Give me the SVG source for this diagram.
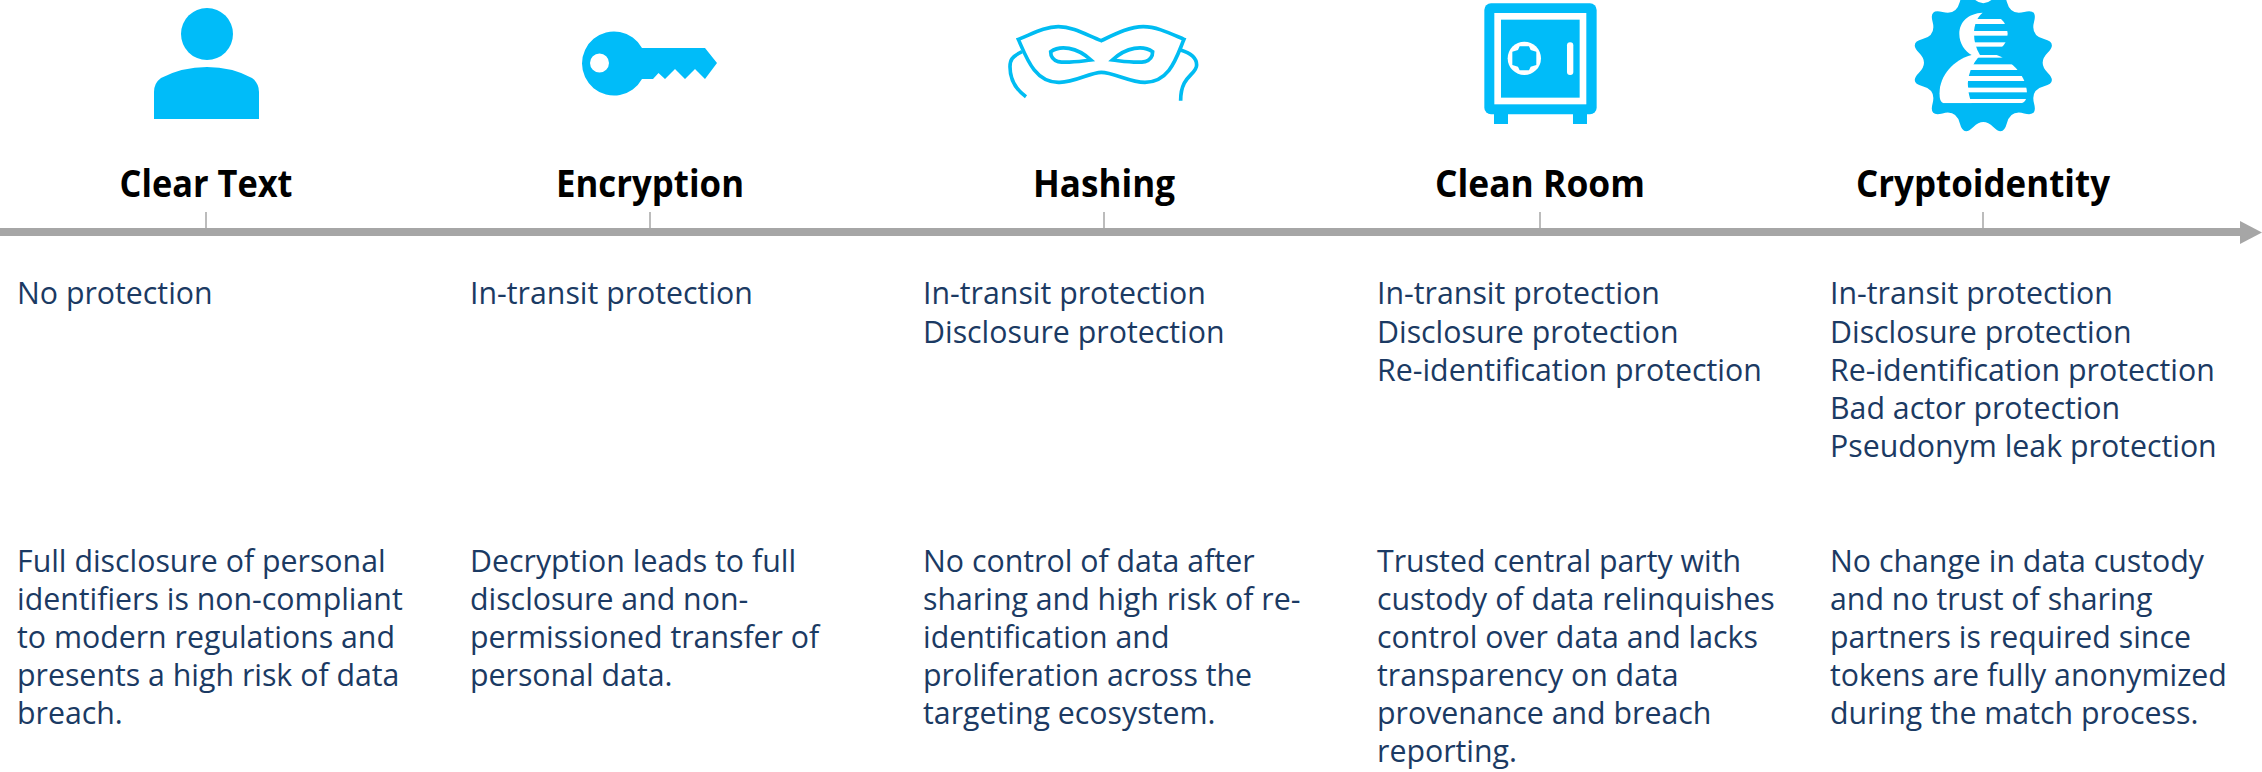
<svg xmlns="http://www.w3.org/2000/svg" width="2262" height="772" viewBox="0 0 2262 772">
<style>
text{font-family:"Open Sans","Noto Sans","Liberation Sans",sans-serif}
.t{font-size:37px;font-weight:700;fill:#000;text-anchor:middle}
.b{font-size:30.300px;fill:#1b3a63}
.i{fill:#00bcf9}
.w{fill:#fff}
.s{fill:none;stroke:#00bcf2;stroke-width:11;stroke-linejoin:miter}
.tick{stroke:#a6a6a6;stroke-width:1.5}
</style>
<defs>
<clipPath id="head"><ellipse cx="250" cy="101" rx="73" ry="64"/></clipPath>
<clipPath id="torso"><path d="M130 310Q118 305 118 280C120 225 160 180 215 165H290C340 185 380 230 381 280Q381 305 365 310Z"/></clipPath>
</defs>
<rect width="2262" height="772" fill="#fff"/>
<g id="connectors">
<rect x="0" y="228" width="2242" height="8" fill="#a6a6a6"/>
<polygon points="2240,221 2262,232.500 2240,244" fill="#a6a6a6"/>
<line class="tick" x1="206" y1="212" x2="206" y2="228"/>
<line class="tick" x1="650" y1="212" x2="650" y2="228"/>
<line class="tick" x1="1104" y1="212" x2="1104" y2="228"/>
<line class="tick" x1="1540" y1="212" x2="1540" y2="228"/>
<line class="tick" x1="1983" y1="212" x2="1983" y2="228"/>
</g>
<g id="clear-text">
<circle class="i" cx="207" cy="34" r="26"/>
<path class="i" d="M154 119V92Q154 83 161 78Q182 67 207 67Q232 67 252 78Q259 83 259 92V119Z"/>
<text class="t" x="206" y="197" textLength="173" lengthAdjust="spacingAndGlyphs">Clear Text</text>
<text class="b" x="17" y="303.500">No protection</text>
<text class="b"><tspan x="17" y="572">Full disclosure of personal</tspan><tspan x="17" y="610">identifiers is non-compliant</tspan><tspan x="17" y="648">to modern regulations and</tspan><tspan x="17" y="686">presents a high risk of data</tspan><tspan x="17" y="724">breach.</tspan></text>
</g>
<g id="encryption">
<path class="i" fill-rule="evenodd" d="M642 48H705L717 63L705 79L695 69L685 79L675 69L665 79L658.500 73L653 79H642A32 32 0 1 1 642 48ZM609 63A9.500 9.500 0 1 0 590 63A9.500 9.500 0 1 0 609 63Z"/>
<text class="t" x="650" y="197" textLength="188" lengthAdjust="spacingAndGlyphs">Encryption</text>
<text class="b" x="470" y="303.500">In-transit protection</text>
<text class="b"><tspan x="470" y="572">Decryption leads to full</tspan><tspan x="470" y="610">disclosure and non-</tspan><tspan x="470" y="648">permissioned transfer of</tspan><tspan x="470" y="686">personal data.</tspan></text>
</g>
<g id="hashing">
<g transform="translate(960 0) scale(.3333)">
<path class="s" d="M175 118C220 100 255 80 295 80C340 80 380 105 424 122C470 100 510 80 550 80C590 80 630 100 672 118C650 170 630 247 555 247C510 247 460 217 424 217C390 217 340 250 295 247C225 247 200 175 175 118Z"/>
<path class="s" d="M272 155C300 135 350 140 393 180C350 185 320 190 295 185C280 180 272 170 272 155Z"/>
<path class="s" d="M578 155C550 135 500 140 457 180C500 185 530 190 555 185C570 180 578 170 578 155Z"/>
<path class="s" d="M186 155C155 170 150 180 150 200C150 240 170 270 198 290"/>
<path class="s" d="M662 150C695 160 710 175 710 195C710 225 662 225 662 302"/>
</g>
<text class="t" x="1104" y="197" textLength="142" lengthAdjust="spacingAndGlyphs">Hashing</text>
<text class="b"><tspan x="923" y="303.500">In-transit protection</tspan><tspan x="923" y="342.500">Disclosure protection</tspan></text>
<text class="b"><tspan x="923" y="572">No control of data after</tspan><tspan x="923" y="610">sharing and high risk of re-</tspan><tspan x="923" y="648">identification and</tspan><tspan x="923" y="686">proliferation across the</tspan><tspan x="923" y="724">targeting ecosystem.</tspan></text>
</g>
<g id="clean-room">
<g transform="translate(1440 0) scale(.3333)">
<rect class="i" x="133" y="10" width="337" height="333" rx="20"/>
<rect class="i" x="162" y="340" width="42" height="32"/>
<rect class="i" x="399" y="340" width="42" height="32"/>
<rect x="173" y="49" width="256" height="254" fill="none" stroke="#fff" stroke-width="20"/>
<circle class="w" cx="253" cy="175" r="50"/>
<path class="i" d="M239 139H267L272 150L289 155V195L272 200L267 211H239L234 200L217 195V155L234 150Z"/>
<rect class="w" x="381" y="127" width="19" height="98" rx="9"/>
</g>
<text class="t" x="1540" y="197" textLength="210" lengthAdjust="spacingAndGlyphs">Clean Room</text>
<text class="b"><tspan x="1377" y="303.500">In-transit protection</tspan><tspan x="1377" y="342.500">Disclosure protection</tspan><tspan x="1377" y="380.500">Re-identification protection</tspan></text>
<text class="b"><tspan x="1377" y="572">Trusted central party with</tspan><tspan x="1377" y="610">custody of data relinquishes</tspan><tspan x="1377" y="648">control over data and lacks</tspan><tspan x="1377" y="686">transparency on data</tspan><tspan x="1377" y="724">provenance and breach</tspan><tspan x="1377" y="762">reporting.</tspan></text>
</g>
<g id="cryptoidentity">
<g transform="translate(1900 0) scale(.3333)">
<path fill="#00b9f5" d="M279.900 -5.050Q309.800 -35.100 320.650 5.850T372.400 35.750T402.250 65.600T432.150 117.350T443.050 158.100T443.050 217.900T432.150 258.650T402.250 310.400T372.400 340.250T320.650 370.150T279.900 381.050T220.100 381.050T179.350 370.150T127.600 340.250T97.750 310.400T67.850 258.650T56.950 217.900T56.950 158.100T67.850 117.350T97.750 65.600T127.600 35.750T179.350 5.850T220.100 -5.050T279.900 -5.050Z"/>
<path class="w" d="M248 38C205 40 178 65 178 102C178 130 195 155 215 165H240C228 145 222 125 222 100C222 75 232 50 248 38Z"/>
<g clip-path="url(#head)">
<rect class="w" x="222" y="57" width="110" height="15"/>
<rect class="w" x="222" y="93" width="110" height="14"/>
<rect class="w" x="222" y="127" width="110" height="13"/>
</g>
<g clip-path="url(#torso)">
<path class="w" d="M100 320V160H245Q225 180 212 210Q200 240 205 265Q205 285 215 310V320Z"/>
<rect class="w" x="215" y="162" width="95" height="11"/>
<rect class="w" x="200" y="193" width="200" height="17"/>
<rect class="w" x="200" y="228" width="200" height="15"/>
<rect class="w" x="200" y="263" width="200" height="14"/>
<rect class="w" x="200" y="297" width="200" height="13"/>
</g>
</g>
<text class="t" x="1983" y="197" textLength="254" lengthAdjust="spacingAndGlyphs">Cryptoidentity</text>
<text class="b"><tspan x="1830" y="303.500">In-transit protection</tspan><tspan x="1830" y="342.500">Disclosure protection</tspan><tspan x="1830" y="380.500">Re-identification protection</tspan><tspan x="1830" y="418.500">Bad actor protection</tspan><tspan x="1830" y="456.500">Pseudonym leak protection</tspan></text>
<text class="b"><tspan x="1830" y="572">No change in data custody</tspan><tspan x="1830" y="610">and no trust of sharing</tspan><tspan x="1830" y="648">partners is required since</tspan><tspan x="1830" y="686">tokens are fully anonymized</tspan><tspan x="1830" y="724">during the match process.</tspan></text>
</g>
</svg>
